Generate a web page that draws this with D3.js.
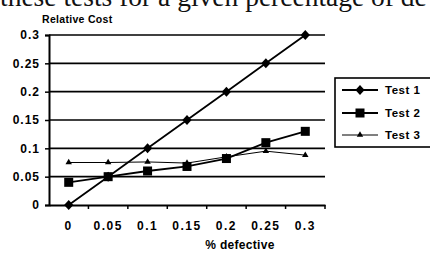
<!DOCTYPE html>
<html><head><meta charset="utf-8">
<script src="https://cdn.jsdelivr.net/npm/d3@7"></script>
<style>body{margin:0;background:#fff}svg{display:block}</style>
</head><body>
<script>
const categories = ["0","0.05","0.1","0.15","0.2","0.25","0.3"];
const test1 = [0, 0.05, 0.1, 0.15, 0.2, 0.25, 0.3];
const test2 = [0.04, 0.05, 0.06, 0.068, 0.082, 0.11, 0.13];
const test3 = [0.075, 0.075, 0.076, 0.074, 0.085, 0.095, 0.088];
const yTicks = [0, 0.05, 0.1, 0.15, 0.2, 0.25, 0.3];
const yTickLabels = ["0","0.05","0.1","0.15","0.2","0.25","0.3"];
const seriesNames = ["Test 1","Test 2","Test 3"];

const W = 430, H = 253;
const svg = d3.select("body").append("svg").attr("width", W).attr("height", H);
const font = "Liberation Sans, Arial, sans-serif";

// scanned page text above the chart (cut off at the top edge, as in the source)
svg.append("text").attr("x", 0).attr("y", 6)
  .attr("font-family", "Liberation Serif, Times New Roman, serif")
  .attr("font-size", 27.5).attr("fill", "#111")
  .text("these tests for a given percentage of de");

const x = d3.scaleBand().domain(categories).range([49, 325]);
const y = d3.scaleLinear().domain([0, 0.3]).range([205, 35]);

// gridlines
svg.append("g").selectAll("line").data(yTicks.slice(1)).join("line")
  .attr("x1", 49).attr("x2", 325)
  .attr("y1", d => y(d)).attr("y2", d => y(d))
  .attr("stroke", "#000").attr("stroke-width", 1.6);

// y axis
const yAxis = d3.axisLeft(y).tickValues(yTicks).tickSize(4)
  .tickFormat((d, i) => yTickLabels[i]);
const gy = svg.append("g").attr("transform", "translate(49,0)").call(yAxis);
gy.select(".domain").attr("stroke-width", 2);
gy.selectAll(".tick line").attr("stroke-width", 1.5);
gy.selectAll("text").attr("font-family", font).attr("font-weight", "bold")
  .attr("font-size", 12).attr("letter-spacing", 1).attr("x", -9);

// x axis
const xAxis = d3.axisBottom(x).tickSize(0).tickSizeOuter(0);
const gx = svg.append("g").attr("transform", "translate(0,205)").call(xAxis);
gx.select(".domain").attr("stroke-width", 2);
gx.selectAll("text").attr("font-family", font).attr("font-weight", "bold")
  .attr("font-size", 12).attr("letter-spacing", 1.5).attr("dy", "1.85em");
// tick marks between categories
svg.append("g").selectAll("line").data(categories).join("line")
  .attr("x1", d => x(d) + x.bandwidth()).attr("x2", d => x(d) + x.bandwidth())
  .attr("y1", 205).attr("y2", 209).attr("stroke", "#000").attr("stroke-width", 1.5);

// titles
svg.append("text").attr("x", 42).attr("y", 23)
  .attr("font-family", font).attr("font-weight", "bold").attr("font-size", 10.5)
  .attr("letter-spacing", 0.3).text("Relative Cost");
svg.append("text").attr("x", 240).attr("y", 249).attr("text-anchor", "middle")
  .attr("font-family", font).attr("font-weight", "bold").attr("font-size", 12)
  .attr("letter-spacing", 0.3).text("% defective");

const cx = d => x(d) + x.bandwidth() / 2;
const line = d3.line().x((d, i) => cx(categories[i])).y(d => y(d));

function drawMarker(g, type, px, py) {
  if (type === 0) {
    g.append("path").attr("d", "M0,-5L4.6,0L0,5L-4.6,0Z").attr("transform", `translate(${px},${py})`).attr("fill", "#000");
  } else if (type === 1) {
    g.append("rect").attr("x", px - 4.5).attr("y", py - 4.5).attr("width", 9).attr("height", 9).attr("fill", "#000");
  } else {
    g.append("path").attr("d", d3.symbol(d3.symbolTriangle, 18)()).attr("transform", `translate(${px},${py})`).attr("fill", "#000");
  }
}

const allSeries = [test1, test2, test3];
const widths = [1.8, 1.8, 1];
allSeries.forEach((s, k) => {
  const g = svg.append("g");
  g.append("path").datum(s).attr("d", line).attr("fill", "none")
    .attr("stroke", "#000").attr("stroke-width", widths[k]);
  s.forEach((v, i) => drawMarker(g, k, cx(categories[i]), y(v)));
});

// legend
const lg = svg.append("g");
lg.append("rect").attr("x", 335).attr("y", 78).attr("width", 110).attr("height", 69)
  .attr("fill", "#fff").attr("stroke", "#000").attr("stroke-width", 1.6);
const ly = [90, 113, 135];
seriesNames.forEach((n, k) => {
  lg.append("line").attr("x1", 342).attr("x2", 378).attr("y1", ly[k]).attr("y2", ly[k])
    .attr("stroke", "#000").attr("stroke-width", widths[k]);
  drawMarker(lg, k, 360, ly[k]);
  lg.append("text").attr("x", 385).attr("y", ly[k] + 4)
    .attr("font-family", font).attr("font-weight", "bold").attr("font-size", 11.5)
    .attr("letter-spacing", 0.5).text(n);
});
</script>
</body></html>
